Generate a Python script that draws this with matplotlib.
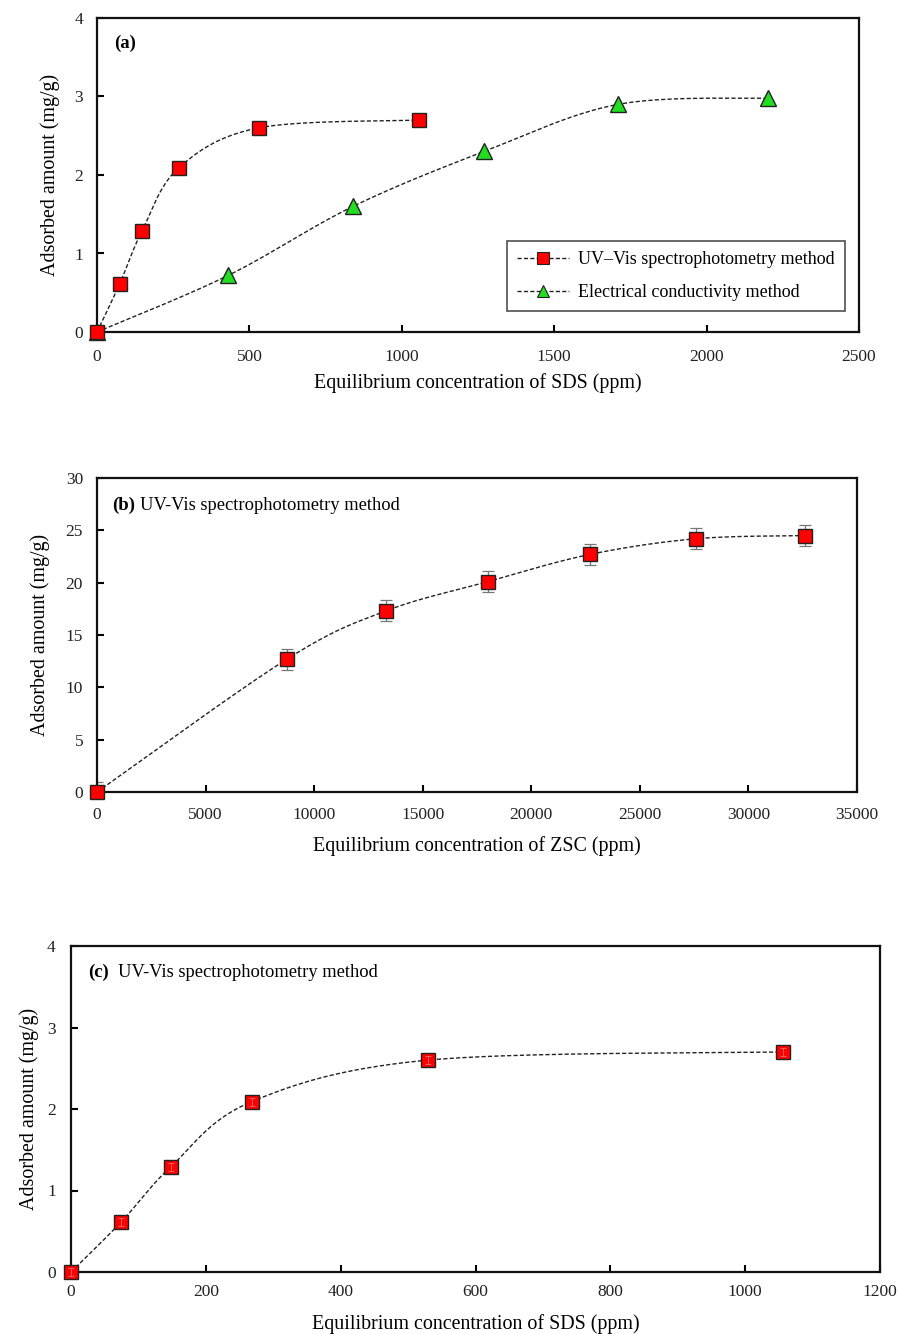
import numpy as np
import matplotlib
matplotlib.use("Agg")
import matplotlib.pyplot as plt
from matplotlib.lines import Line2D

plt.rcParams["font.family"] = ["Liberation Serif", "DejaVu Serif"]

# ---- data ----
sds_uv_x = [0, 74, 148, 268, 530, 1056]
sds_uv_y = [0.0, 0.61, 1.29, 2.09, 2.60, 2.70]
sds_uv_err = [0.05, 0.05, 0.05, 0.05, 0.05, 0.05]

sds_ec_x = [0, 430, 840, 1270, 1710, 2200]
sds_ec_y = [0.0, 0.72, 1.60, 2.30, 2.90, 2.98]

zsc_x = [0, 8750, 13300, 18000, 22700, 27600, 32600]
zsc_y = [0.0, 12.7, 17.3, 20.1, 22.7, 24.2, 24.5]
zsc_err = [1.0, 1.0, 1.0, 1.0, 1.0, 1.0, 1.0]

xlabel_sds = "Equilibrium concentration of SDS (ppm)"
xlabel_zsc = "Equilibrium concentration of ZSC (ppm)"
ylabel = "Adsorbed amount (mg/g)"
legend_labels = ["UV\u2013Vis spectrophotometry method", "Electrical conductivity method"]
method_note = "UV-Vis spectrophotometry method"

W, H = 900, 1334
fig = plt.figure(figsize=(W / 100, H / 100), dpi=100)


def px_axes(left, right, top, bottom):
    return fig.add_axes([left / W, 1 - bottom / H, (right - left) / W, (bottom - top) / H])


def smooth(x, y, xr, yr, n=40):
    """Uniform Catmull-Rom curve through the points (scaled to axis ranges)."""
    px = np.asarray(x, float) / xr
    py = np.asarray(y, float) / yr
    P = np.column_stack([px, py])
    P = np.vstack([P[0], P, P[-1]])
    out = []
    t = np.linspace(0, 1, n)[:, None]
    for i in range(1, len(P) - 2):
        p0, p1, p2, p3 = P[i - 1], P[i], P[i + 1], P[i + 2]
        c1 = p1 + (p2 - p0) / 6
        c2 = p2 - (p3 - p1) / 6
        seg = ((1 - t) ** 3) * p1 + 3 * ((1 - t) ** 2) * t * c1 + 3 * (1 - t) * t ** 2 * c2 + t ** 3 * p2
        out.append(seg)
    out = np.vstack(out)
    return out[:, 0] * xr, out[:, 1] * yr


def style(ax, xlim, ylim, xticks, yticks, xpad, ypad):
    ax.set_xlim(*xlim)
    ax.set_ylim(*ylim)
    ax.set_xticks(xticks)
    ax.set_yticks(yticks)
    for s in ax.spines.values():
        s.set_linewidth(1.6)
        s.set_color("#111111")
    ax.tick_params(direction="in", length=5, width=1.5, labelsize=12.5,
                   labelcolor="#222222")
    ax.tick_params(axis="x", pad=xpad)
    ax.tick_params(axis="y", pad=ypad)


dash = (0, (3, 1.6))
sq = dict(marker="s", markersize=10.5, markerfacecolor="#ff0000",
          markeredgecolor="#222222", markeredgewidth=1.0, linestyle="none")
tri = dict(marker="^", markersize=11, markerfacecolor="#22dd22",
           markeredgecolor="#222222", markeredgewidth=1.0, linestyle="none")
ebar = dict(ecolor="#777777", elinewidth=0.9, capsize=4.5, capthick=0.9, fmt="none")

# ---- (a) ----
ax = px_axes(97, 859, 18, 332)
style(ax, (0, 2500), (0, 4), range(0, 2501, 500), range(0, 5), xpad=12, ypad=10)
sx, sy = smooth(sds_uv_x, sds_uv_y, 2500, 4)
ax.plot(sx, sy, color="#222222", lw=1.0, ls=dash)
ex, ey = smooth(sds_ec_x, sds_ec_y, 2500, 4)
ax.plot(ex, ey, color="#222222", lw=1.0, ls=dash)
ax.errorbar(sds_uv_x, sds_uv_y, yerr=sds_uv_err, **ebar)
ax.plot(sds_ec_x, sds_ec_y, clip_on=False, zorder=5, **tri)
ax.plot(sds_uv_x, sds_uv_y, clip_on=False, zorder=6, **sq)
ax.text(0.022, 0.92, "(a)", transform=ax.transAxes, fontsize=13.5, fontweight="bold",
        ha="left", va="center")
ax.set_xlabel(xlabel_sds, fontsize=14.4, labelpad=6)
ax.set_ylabel(ylabel, fontsize=14.4, labelpad=10)
handles = [
    Line2D([], [], color="#222222", lw=1.0, ls=dash, marker="s", markersize=8,
           markerfacecolor="#ff0000", markeredgecolor="#222222", markeredgewidth=0.8),
    Line2D([], [], color="#222222", lw=1.0, ls=dash, marker="^", markersize=8,
           markerfacecolor="#22dd22", markeredgecolor="#222222", markeredgewidth=0.8),
]
leg = ax.legend(handles, legend_labels, loc="upper left",
                bbox_to_anchor=((507 - 97) / 762, (332 - 241) / 314),
                fontsize=13, frameon=True, fancybox=False, handlelength=2.9,
                handletextpad=0.5, borderpad=0.55, labelspacing=0.9, borderaxespad=0)
leg.get_frame().set_edgecolor("#222222")
leg.get_frame().set_linewidth(1.2)

# ---- (b) ----
ax = px_axes(97, 857, 478, 792)
style(ax, (0, 35000), (0, 30), range(0, 35001, 5000), range(0, 31, 5), xpad=11, ypad=10)
bx, by = smooth(zsc_x, zsc_y, 35000, 30)
ax.plot(bx, by, color="#222222", lw=1.0, ls=dash)
ax.errorbar(zsc_x, zsc_y, yerr=zsc_err, **ebar)
ax.plot(zsc_x, zsc_y, clip_on=False, zorder=6, **sq)
ax.text(0.02, 0.914, "(b)", transform=ax.transAxes, fontsize=13.5, fontweight="bold",
        ha="left", va="center")
ax.text(0.056, 0.914, method_note, transform=ax.transAxes,
        fontsize=13.3, ha="left", va="center")
ax.set_xlabel(xlabel_zsc, fontsize=14.4, labelpad=9)
ax.set_ylabel(ylabel, fontsize=14.4, labelpad=11)

# ---- (c) ----
ax = px_axes(71, 880, 946, 1272)
style(ax, (0, 1200), (0, 4), range(0, 1201, 200), range(0, 5), xpad=9, ypad=11)
cx, cy = smooth(sds_uv_x, sds_uv_y, 1200, 4)
ax.plot(cx, cy, color="#222222", lw=1.0, ls=dash)
ax.plot(sds_uv_x, sds_uv_y, clip_on=False, zorder=6, **sq)
ax.errorbar(sds_uv_x, sds_uv_y, yerr=sds_uv_err, ecolor="#e07070", elinewidth=0.6,
            capsize=2, capthick=0.6, fmt="none", zorder=7, clip_on=False)
ax.text(0.021, 0.92, "(c)", transform=ax.transAxes, fontsize=13.5, fontweight="bold",
        ha="left", va="center")
ax.text(0.058, 0.92, method_note, transform=ax.transAxes,
        fontsize=13.3, ha="left", va="center")
ax.set_xlabel(xlabel_sds, fontsize=14.4, labelpad=10)
ax.set_ylabel(ylabel, fontsize=14.4, labelpad=6)

fig.savefig("out.png", dpi=100)
